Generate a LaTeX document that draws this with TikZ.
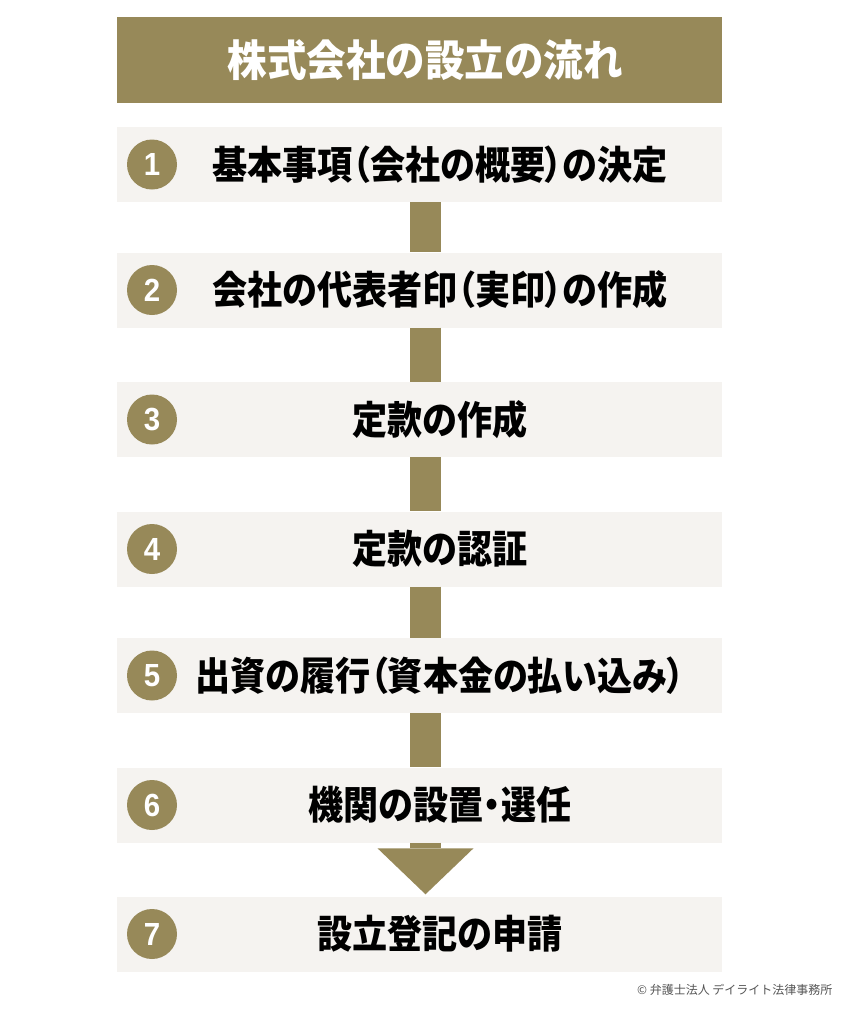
\documentclass[tikz,border=0pt]{standalone}
\usepackage{fontspec}
\setmainfont{Noto Sans CJK JP}
\newfontfamily\jpfont{Noto Sans CJK JP}[FakeStretch=0.9,RawFeature=+palt]
\newfontfamily\titlefont{Noto Sans CJK JP}[FakeStretch=0.92,RawFeature=+palt]
\newfontfamily\numfont{Liberation Sans}[FakeStretch=0.92]
\usetikzlibrary{positioning,arrows.meta}

\tikzset{
  stepbox/.style={fill=boxgray,minimum width=605pt,minimum height=75pt,inner sep=0pt},
  numdot/.style={circle,fill=gold,minimum size=50pt,inner sep=0pt,text=white,
    font=\numfont\bfseries\fontsize{32}{32}\selectfont},
  steptext/.style={font=\jpfont\bfseries\fontsize{39}{40}\selectfont},
  bar/.style={gold,line width=31pt},
}

\begin{document}
\begin{tikzpicture}[x=1pt,y=-1pt]

        \definecolor{gold}{RGB}{151,137,89}
        \definecolor{boxgray}{RGB}{245,243,240}
        \definecolor{copygray}{RGB}{85,85,85}

        \useasboundingbox (0,0) rectangle (850,1010);

        % title
        \node[fill=gold,minimum width=605pt,minimum height=86pt,inner sep=0pt] (T) at (419.5,60) {};
        \node[text=white,font=\titlefont\bfseries\fontsize{43}{43}\selectfont] (TT) at ([xshift=5.5pt]T.center) {株式会社の設立の流れ};

        \foreach \i/\y/\txt in {1/164.5/基本事項（会社の概要）の決定,
                                2/290/会社の代表者印（実印）の作成,
                                3/419.5/定款の作成,
                                4/549/定款の認証,
                                5/675.5/出資の履行（資本金の払い込み）,
                                6/805/機関の設置・選任,
                                7/934/設立登記の申請} {
            \node[stepbox] (S\i) at (419.5,\y) {};
            \node[numdot,right=10pt of S\i.west] (N\i) {\i};
            \node[steptext] (L\i) at ([xshift=20.5pt]S\i.center) {\txt};
        }

        \foreach \i [count=\j from 2] in {1,...,5}
            \draw[bar] ([xshift=6pt]S\i.south) -- ([xshift=6pt]S\j.north);
        \draw[bar,-{Triangle[width=96pt,length=46pt,line width=0pt]}] ([xshift=6pt]S6.south) -- ([xshift=6pt,yshift=2pt]S7.north);

        \node[anchor=east,text=copygray,font=\fontsize{12}{12}\selectfont] (C) at (836,990) {© 弁護士法人 デイライト法律事務所};

\end{tikzpicture}
\end{document}
